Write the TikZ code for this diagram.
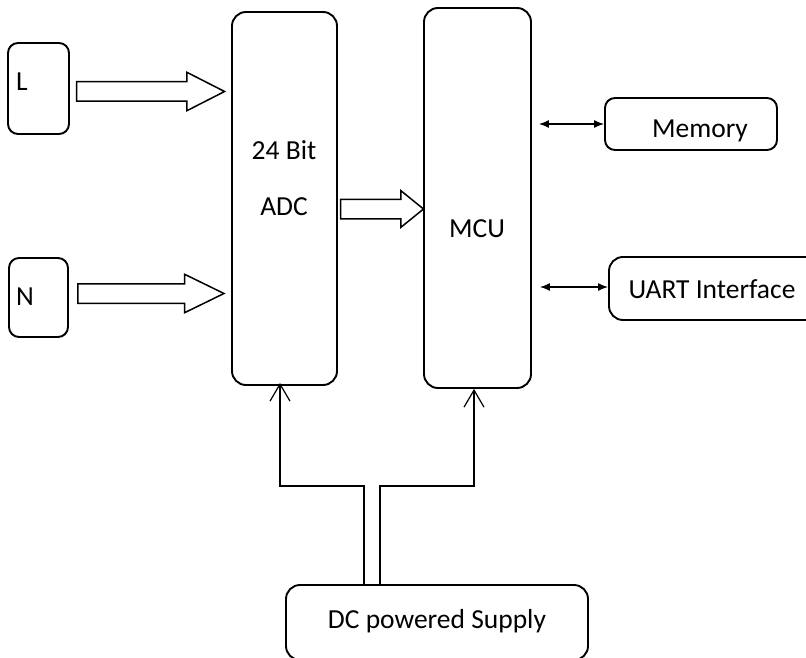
\documentclass[tikz,border=0pt]{standalone}
\usepackage{fontspec}
\setmainfont{Carlito}
\usetikzlibrary{shapes.arrows,arrows.meta}

\tikzset{
    blk/.style={draw, line width=1.9pt, rounded corners=14pt, inner sep=0pt},
    txt/.style={inner sep=0pt, anchor=base},
    fat/.style={draw, line width=1.5pt, single arrow, inner xsep=0pt, inner ysep=9pt,
        single arrow head extend=9.5pt},
    bus/.style={line width=1.4pt, {Latex[length=10pt,width=8pt]}-{Latex[length=10pt,width=8pt]}},
    power/.style={line width=1.2pt, -{Straight Barb[length=17pt,width=20pt]}}
}

\begin{document}
\begin{tikzpicture}[x=1pt,y=-1pt,font=\fontsize{27.5}{33}\selectfont]
    \useasboundingbox (0,0) rectangle (806,658);
    \clip (0,0) rectangle (806,658);
    \node[blk, rounded corners=10pt, minimum width=61pt, minimum height=91pt] (L) at (38.5,88.5) {};
    \node[blk, rounded corners=10pt, minimum width=59pt, minimum height=79pt] (N) at (38.5,297.5) {};
    \node[blk, minimum width=105pt, minimum height=373pt] (adc) at (284.5,198.5) {};
    \node[blk, minimum width=107pt, minimum height=380pt] (mcu) at (477.5,198) {};
    \node[blk, rounded corners=10pt, minimum width=172pt, minimum height=52pt] (mem) at (691,124) {};
    \node[blk, minimum width=211pt, minimum height=63pt] (uart) at (714.5,288.5) {};
    \node[blk, minimum width=302pt, minimum height=75pt] (dc) at (437,622.5) {};
    \node[txt, anchor=base west] (Lt) at (16,91) {L};
    \node[txt, anchor=base west] (Nt) at (16,305) {N};
    \node[txt] (adct1) at (284,160) {24 Bit};
    \node[txt] (adct2) at (284,215) {ADC};
    \node[txt] (mcut) at (477,237) {MCU};
    \node[txt] (memt) at (700,138) {Memory};
    \node[txt] (uartt) at (712,298) {UART Interface};
    \node[txt] (dct) at (437,628) {DC powered Supply};
    \node[fat, minimum height=148pt, single arrow tip angle=54] (Lin) at (141,91.5) {};
    \node[fat, minimum height=146pt, single arrow tip angle=52] (Nin) at (141,293.5) {};
    \node[fat, minimum height=83pt, single arrow head extend=8.5pt,
        single arrow tip angle=78] (adcout) at (376,209) {};
    \draw[bus, shorten <=7pt] (mem.west -| mcu.east) -- (mem.west);
    \draw[bus, shorten <=8pt] ([yshift=1.5pt]uart.west -| mcu.east) -- ([yshift=1.5pt]uart.west);
    \draw[power] ([xshift=-73pt]dc.north) -- ++(0,-98) -| ([xshift=-4.5pt,yshift=3pt]adc.south);
    \draw[power] ([xshift=-57pt]dc.north) -- ++(0,-98) -| ([xshift=-3.5pt]mcu.south);
\end{tikzpicture}
\end{document}
